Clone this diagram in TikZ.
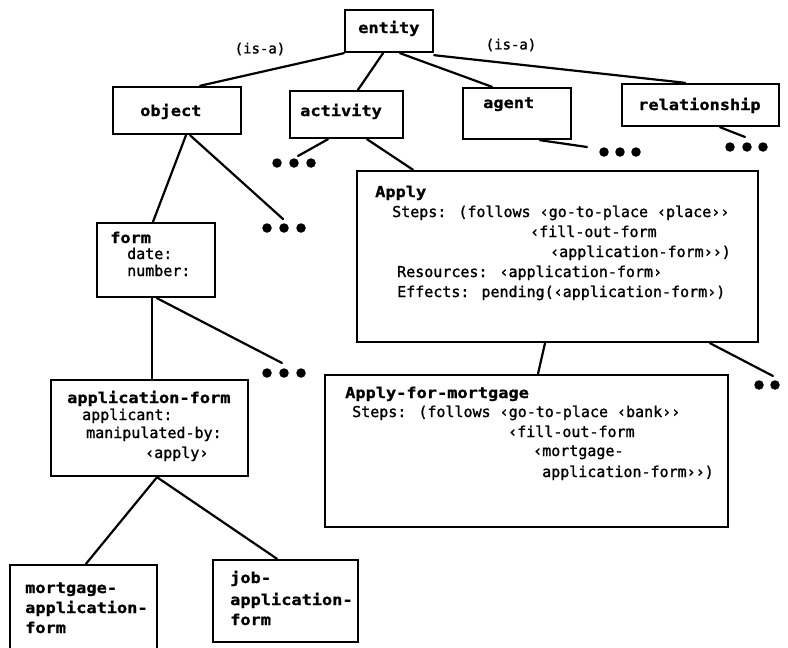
\documentclass[tikz,border=0pt]{standalone}
\usepackage{fontspec}
\setmainfont{DejaVu Sans Mono}
\newfontfamily\bodyfont[FakeBold=1.4]{DejaVu Sans Mono}
\newfontfamily\headfont[FakeStretch=1.13, FakeBold=1.2]{DejaVu Sans Mono Bold}
\usetikzlibrary{calc}
\begin{document}
\begin{tikzpicture}[x=1pt,y=-1pt,
  framebox/.style={draw, line width=2.4pt, rectangle, inner sep=0pt},
  link/.style={line width=2.2pt, line cap=round},
  head/.style={anchor=base west, inner sep=0pt, font=\headfont\fontsize{15}{18}\selectfont},
  body/.style={anchor=base west, inner sep=0pt, font=\bodyfont\fontsize{15}{18}\selectfont},
  isa/.style={inner sep=0pt, font=\bodyfont\fontsize{14}{16}\selectfont},
  blob/.style={circle, fill, inner sep=0pt, minimum size=9.5pt}]
\clip (0,0) rectangle (788,648);

% frames
\node[framebox, minimum width=88pt,  minimum height=42pt]  (entity)   at (389,31)    {};
\node[framebox, minimum width=128pt, minimum height=47pt]  (object)   at (177,110.5) {};
\node[framebox, minimum width=113pt, minimum height=47pt]  (activity) at (346.5,114.5) {};
\node[framebox, minimum width=108pt, minimum height=51pt]  (agent)    at (517,113.5) {};
\node[framebox, minimum width=157pt, minimum height=42pt]  (relation) at (700.5,105) {};
\node[framebox, minimum width=401pt, minimum height=171pt] (apply)    at (557.5,256.5) {};
\node[framebox, minimum width=403pt, minimum height=152pt] (afm)      at (526.5,451) {};
\node[framebox, minimum width=118pt, minimum height=74pt]  (form)     at (156,260) {};
\node[framebox, minimum width=197pt, minimum height=96pt]  (appform)  at (149.5,428) {};
\node[framebox, minimum width=147pt, minimum height=94pt]  (mform)    at (83.5,612) {};
\node[framebox, minimum width=145pt, minimum height=82pt]  (jform)    at (285.5,601) {};

% labels of the frames
\node[head] (tEntity)   at (358,33)  {entity};
\node[head] (tObject)   at (140,116) {object};
\node[head] (tActivity) at (300,116) {activity};
\node[head] (tAgent)    at (483,108) {agent};
\node[head] (tRelation) at (638,110) {relationship};

\node[isa] (isaL) at (260,49) {(is-a)};
\node[isa] (isaR) at (511,45) {(is-a)};

\node[head] (tApply) at (375,197) {Apply};
\node[body] (aS1) at (392,217) {Steps: (follows ‹go-to-place ‹place››};
\node[body] (aS2) at (530,237) {‹fill-out-form};
\node[body] (aS3) at (550,257) {‹application-form››)};
\node[body] (aR)  at (397,277) {Resources: ‹application-form›};
\node[body] (aE)  at (397,297) {Effects: pending(‹application-form›)};

\node[head] (tAfm) at (345,398) {Apply-for-mortgage};
\node[body] (mS1) at (352,417) {Steps: (follows ‹go-to-place ‹bank››};
\node[body] (mS2) at (508,437) {‹fill-out-form};
\node[body] (mS3) at (533,456) {‹mortgage-};
\node[body] (mS4) at (542,477) {application-form››)};

\node[head] (tForm) at (110,243) {form};
\node[body] (fD) at (127,259) {date:};
\node[body] (fN) at (127,276) {number:};

\node[head] (tApp) at (67,403) {application-form};
\node[body] (pA) at (82,420)  {applicant:};
\node[body] (pM) at (86,438)  {manipulated-by:};
\node[body] (pP) at (145,458) {‹apply›};

\node[head] (tM1) at (25,593) {mortgage-};
\node[head] (tM2) at (25,613) {application-};
\node[head] (tM3) at (25,633) {form};

\node[head] (tJ1) at (230,583) {job-};
\node[head] (tJ2) at (230,605) {application-};
\node[head] (tJ3) at (230,625) {form};

% elided siblings
\foreach \n/\x/\y in {ac1/277/163, ac2/294/163, ac3/311/163,
                      ob1/267/228, ob2/284/228, ob3/301/228,
                      fo1/267/373, fo2/284/373, fo3/301/373,
                      ag1/604/152, ag2/620/152, ag3/636/152,
                      re1/730/147, re2/747/147, re3/763/147,
                      ap1/759/385, ap2/775/385}
  \node[blob] (\n) at (\x,\y) {};

\coordinate (acEnd) at (298,156);
\coordinate (obEnd) at (283,219);
\coordinate (foEnd) at (282,363);
\coordinate (agEnd) at (587,147);
\coordinate (reEnd) at (745,137);
\coordinate (apEnd) at (773,376);

% is-a links
\draw[link] (entity.south west) -- ([xshift=23pt]object.north);
\draw[link] ([xshift=-6pt]entity.south) -- ([xshift=11.5pt]activity.north);
\draw[link] ([xshift=11pt]entity.south) -- ([xshift=-25pt]agent.north);
\draw[link] ([yshift=-2pt]entity.south east) -- ([xshift=-15.5pt]relation.north);
\draw[link] ([xshift=20.5pt]activity.south) -- ([xshift=-144.5pt]apply.north);
\draw[link] ([xshift=-12.5pt]apply.south) -- ([xshift=11.5pt]afm.north);
\draw[link] ([xshift=9pt]object.south) -- ([xshift=-3pt]form.north);
\draw[link] ([xshift=-4pt]form.south) -- ([xshift=2.5pt]appform.north);
\draw[link] ([xshift=7.5pt]appform.south) -- ([xshift=2.5pt]mform.north);
\draw[link] ([xshift=7.5pt]appform.south) -- ([xshift=-8.5pt]jform.north);

% links to elided siblings
\draw[link] ([xshift=-18.5pt]activity.south) -- (acEnd);
\draw[link] ([xshift=13pt]object.south) -- (obEnd);
\draw[link] ([xshift=1pt]form.south) -- (foEnd);
\draw[link] ([xshift=23pt]agent.south) -- (agEnd);
\draw[link] ([xshift=19.5pt]relation.south) -- (reEnd);
\draw[link] ([xshift=152.5pt]apply.south) -- (apEnd);
\end{tikzpicture}
\end{document}
